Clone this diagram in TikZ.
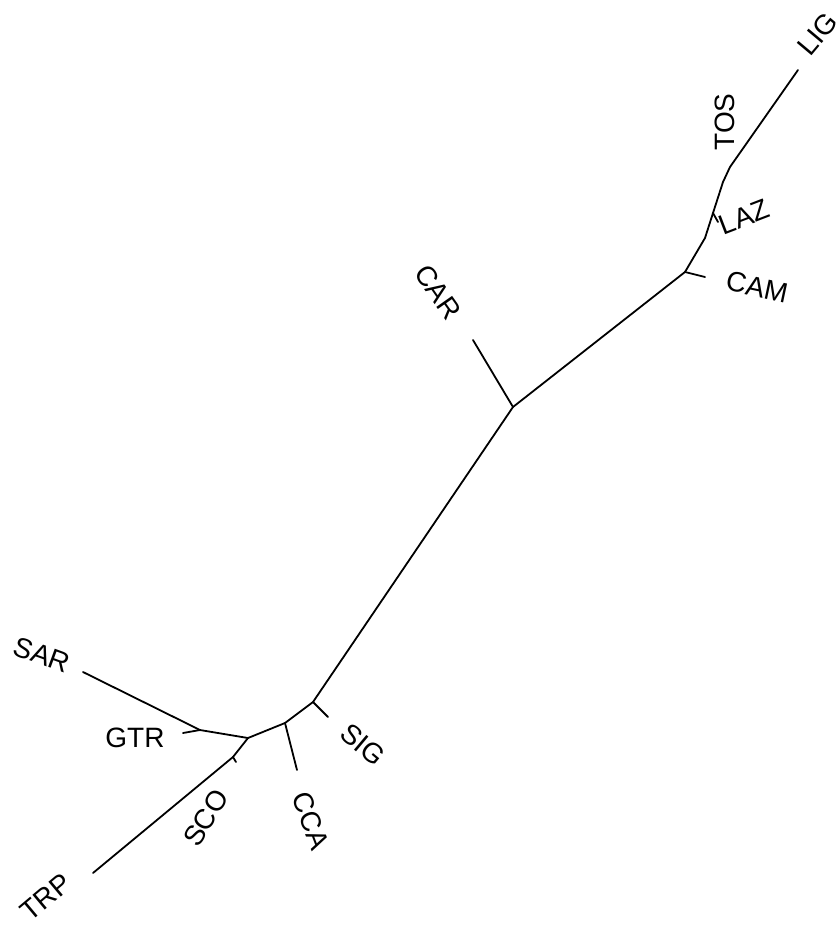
\documentclass[tikz,border=0pt]{standalone}
\usepackage{fontspec}
\setmainfont{Liberation Sans}
\begin{document}
\begin{tikzpicture}[x=1pt,y=-1pt,
  br/.style={line width=1.8pt, line join=round, line cap=round},
  lab/.style={font=\fontsize{28}{30}\selectfont, inner sep=0pt}]
\useasboundingbox (0,0) rectangle (839,927);
% internal nodes
\coordinate (nGTR) at (200,730);
\coordinate (nSCO) at (248,738);
\coordinate (tSCO) at (233,757);
\coordinate (nCCA) at (285,723);
\coordinate (nSIG) at (313,702);
\coordinate (nCAR) at (513,407);
\coordinate (nCAM) at (685,272);
\coordinate (nLAZ) at (705,238);
\coordinate (nTOS) at (730,167);
% tips
\coordinate (eSAR) at (83,672);
\coordinate (eGTR) at (183,733);
\coordinate (eTRP) at (93,873);
\coordinate (eSCOt) at (236,762);
\coordinate (eCCA) at (297,770);
\coordinate (eSIG) at (328,717);
\coordinate (eCAR) at (473,340);
\coordinate (eCAM) at (705,277);
\coordinate (eLIG) at (798,70);
% branches
\draw[br] (eSAR) -- (nGTR) -- (nSCO);
\draw[br] (eGTR) -- (nGTR);
\draw[br] (nSCO) -- (tSCO) -- (eTRP);
\draw[br] (tSCO) -- (eSCOt);
\draw[br] (nSCO) -- (nCCA) -- (nSIG);
\draw[br] (nCCA) -- (eCCA);
\draw[br] (nSIG) -- (eSIG);
\draw[br] (nSIG) -- (nCAR);
\draw[br] (nCAR) -- (eCAR);
\draw[br] (nCAR) -- (nCAM);
\draw[br] (nCAM) -- (eCAM);
\draw[br] (nCAM) -- (nLAZ) -- (713,213) -- (723,182) -- (nTOS) -- (eLIG);
\draw[br] (713,213) -- (718,222);
% labels
\node[lab, rotate=50] (LIG) at (818,34) {LIG};
\node[lab, rotate=90] (TOS) at (725,122) {TOS};
\node[lab, rotate=21] (LAZ) at (744,217) {LAZ};
\node[lab, rotate=-12] (CAM) at (757,287) {CAM};
\node[lab, rotate=-55] (CAR) at (438,292) {CAR};
\node[lab, rotate=-20] (SAR) at (42,655) {SAR};
\node[lab] (GTR) at (135,738) {GTR};
\node[lab, rotate=58] (SCO) at (206,818) {SCO};
\node[lab, rotate=-69] (CCA) at (311,821) {CCA};
\node[lab, rotate=-40] (SIG) at (363,745) {SIG};
\node[lab, rotate=40] (TRP) at (46,897) {TRP};
\end{tikzpicture}
\end{document}
